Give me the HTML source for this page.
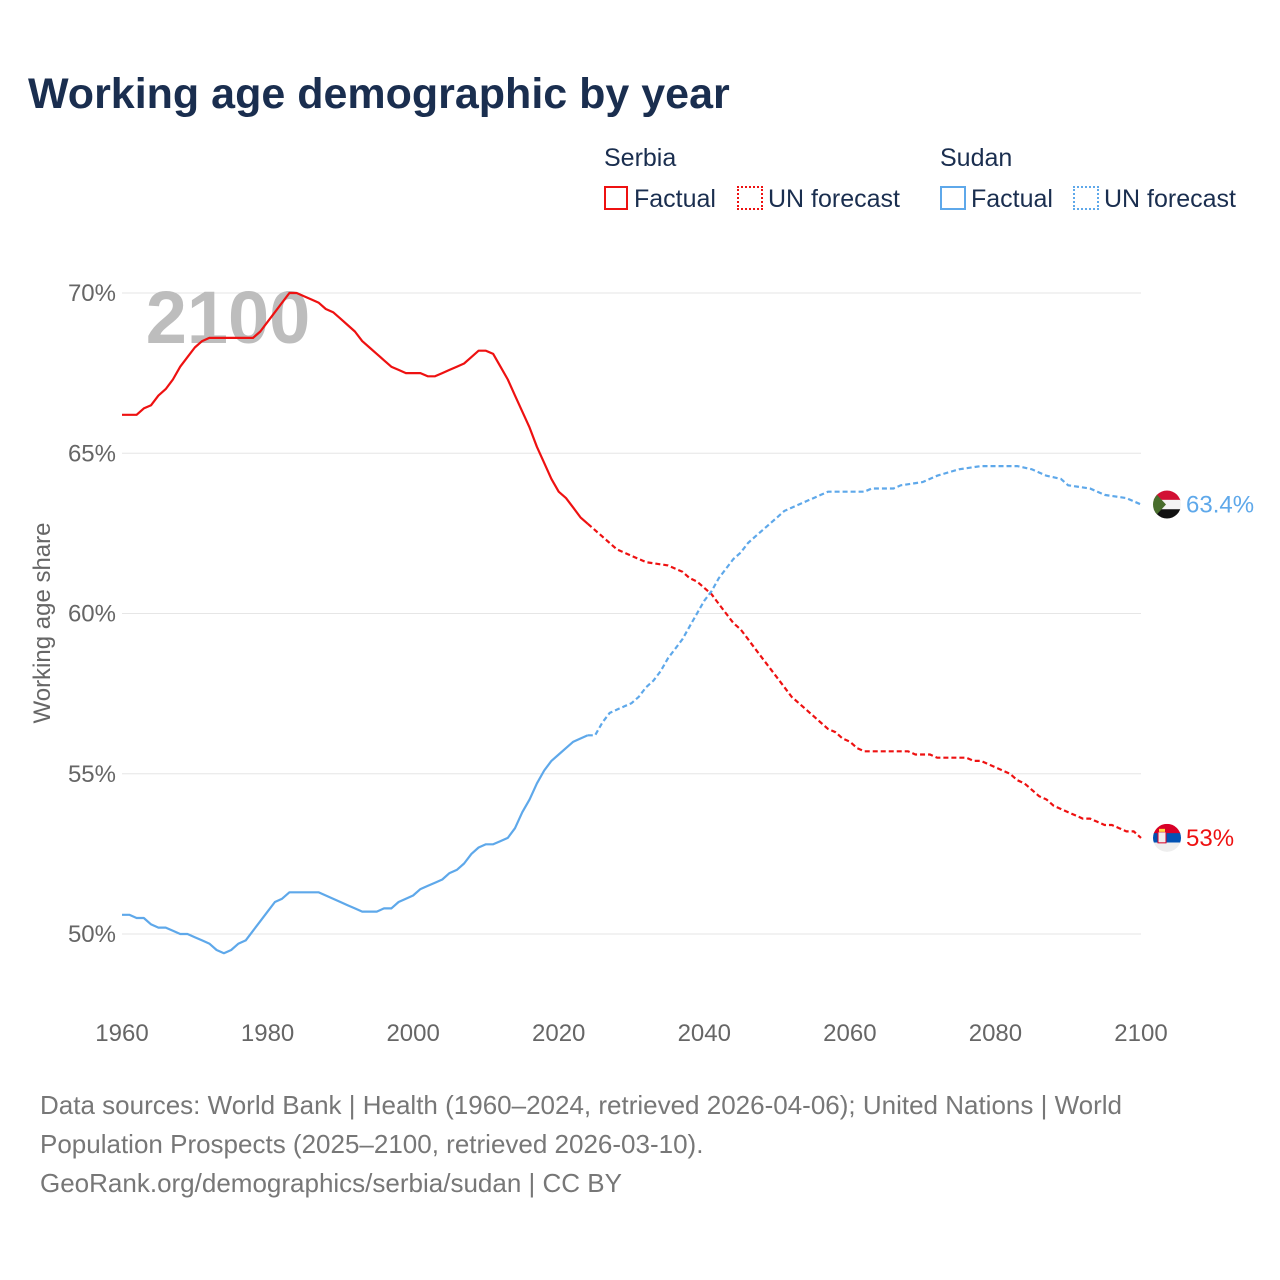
<!DOCTYPE html>
<html><head><meta charset="utf-8">
<style>
html,body{margin:0;padding:0;background:#fff;}
body{width:1280px;height:1280px;position:relative;font-family:"Liberation Sans",sans-serif;overflow:hidden;}
.t{position:absolute;white-space:nowrap;}
</style></head>
<body>
<div class="t" style="left:28px;top:70px;font-size:43px;font-weight:bold;color:#1a2e4f;">Working age demographic by year</div>

<div>
<div class="t" style="left:604px;top:144px;font-size:25px;color:#1a2e4f;">Serbia</div>
<div class="t" style="left:604px;top:185px;font-size:25px;color:#1a2e4f;"><span style="display:inline-block;width:24px;height:24px;border:2px solid #ee1111;box-sizing:border-box;vertical-align:-3px;margin-right:6px;"></span>Factual</div>
<div class="t" style="left:737px;top:185px;font-size:25px;color:#1a2e4f;"><span style="display:inline-block;width:26px;height:24px;border:2px dotted #ee1111;box-sizing:border-box;vertical-align:-3px;margin-right:5px;"></span>UN forecast</div>
<div class="t" style="left:940px;top:144px;font-size:25px;color:#1a2e4f;">Sudan</div>
<div class="t" style="left:940px;top:185px;font-size:25px;color:#1a2e4f;"><span style="display:inline-block;width:26px;height:24px;border:2px solid #5ea8ea;box-sizing:border-box;vertical-align:-3px;margin-right:5px;"></span>Factual</div>
<div class="t" style="left:1073px;top:185px;font-size:25px;color:#1a2e4f;"><span style="display:inline-block;width:26px;height:24px;border:2px dotted #5ea8ea;box-sizing:border-box;vertical-align:-3px;margin-right:5px;"></span>UN forecast</div>
</div>

<svg id="chart" width="1280" height="1280" style="position:absolute;left:0;top:0;" xmlns="http://www.w3.org/2000/svg"></svg>

<div class="t" style="left:40px;top:1086px;font-size:26px;line-height:39px;color:#777;">Data sources: World Bank | Health (1960–2024, retrieved 2026-04-06); United Nations | World<br>Population Prospects (2025–2100, retrieved 2026-03-10).<br>GeoRank.org/demographics/serbia/sudan | CC BY</div>

<script>
const xTicks=[1960,1980,2000,2020,2040,2060,2080,2100];
const yTicks=[50,55,60,65,70];
const serbiaYears=[1960,1962,1963,1964,1965,1966,1967,1968,1969,1970,1971,1972,1978,1979,1980,1981,1982,1983,1984,1985,1986,1987,1988,1989,1990,1991,1992,1993,1994,1995,1996,1997,1998,1999,2001,2002,2003,2004,2005,2006,2007,2008,2009,2010,2011,2012,2013,2014,2015,2016,2017,2018,2019,2020,2021,2022,2023,2024,2025,2026,2027,2028,2029,2030,2031,2032,2035,2036,2037,2038,2039,2040,2041,2042,2043,2044,2045,2046,2047,2048,2049,2050,2051,2052,2053,2054,2055,2056,2057,2058,2059,2060,2061,2062,2068,2069,2071,2072,2076,2077,2078,2079,2080,2081,2082,2083,2084,2085,2086,2087,2088,2089,2090,2091,2092,2093,2094,2095,2096,2097,2098,2099,2100];
const serbiaValues=[66.2,66.2,66.4,66.5,66.8,67.0,67.3,67.7,68.0,68.3,68.5,68.6,68.6,68.8,69.1,69.4,69.7,70.0,70.0,69.9,69.8,69.7,69.5,69.4,69.2,69.0,68.8,68.5,68.3,68.1,67.9,67.7,67.6,67.5,67.5,67.4,67.4,67.5,67.6,67.7,67.8,68.0,68.2,68.2,68.1,67.7,67.3,66.8,66.3,65.8,65.2,64.7,64.2,63.8,63.6,63.3,63.0,62.8,62.6,62.4,62.2,62.0,61.9,61.8,61.7,61.6,61.5,61.4,61.3,61.1,61.0,60.8,60.6,60.3,60.0,59.7,59.5,59.2,58.9,58.6,58.3,58.0,57.7,57.4,57.2,57.0,56.8,56.6,56.4,56.3,56.1,56.0,55.8,55.7,55.7,55.6,55.6,55.5,55.5,55.4,55.4,55.3,55.2,55.1,55.0,54.8,54.7,54.5,54.3,54.2,54.0,53.9,53.8,53.7,53.6,53.6,53.5,53.4,53.4,53.3,53.2,53.2,53.0];
const sudanYears=[1960,1961,1962,1963,1964,1965,1966,1967,1968,1969,1970,1971,1972,1973,1974,1975,1976,1977,1978,1979,1980,1981,1982,1983,1987,1988,1989,1990,1991,1992,1993,1995,1996,1997,1998,1999,2000,2001,2002,2003,2004,2005,2006,2007,2008,2009,2010,2011,2012,2013,2014,2015,2016,2017,2018,2019,2020,2021,2022,2023,2024,2025,2026,2027,2028,2029,2030,2031,2032,2033,2034,2035,2036,2037,2038,2039,2040,2041,2042,2043,2044,2045,2046,2047,2048,2049,2050,2051,2052,2053,2054,2055,2056,2057,2062,2063,2066,2067,2070,2072,2075,2078,2083,2085,2087,2089,2090,2093,2095,2098,2100];
const sudanValues=[50.6,50.6,50.5,50.5,50.3,50.2,50.2,50.1,50.0,50.0,49.9,49.8,49.7,49.5,49.4,49.5,49.7,49.8,50.1,50.4,50.7,51.0,51.1,51.3,51.3,51.2,51.1,51.0,50.9,50.8,50.7,50.7,50.8,50.8,51.0,51.1,51.2,51.4,51.5,51.6,51.7,51.9,52.0,52.2,52.5,52.7,52.8,52.8,52.9,53.0,53.3,53.8,54.2,54.7,55.1,55.4,55.6,55.8,56.0,56.1,56.2,56.2,56.6,56.9,57.0,57.1,57.2,57.4,57.7,57.9,58.2,58.6,58.9,59.2,59.6,60.0,60.4,60.7,61.1,61.4,61.7,61.9,62.2,62.4,62.6,62.8,63.0,63.2,63.3,63.4,63.5,63.6,63.7,63.8,63.8,63.9,63.9,64.0,64.1,64.3,64.5,64.6,64.6,64.5,64.3,64.2,64.0,63.9,63.7,63.6,63.4];
const lastFactualYear=2024;

const NS="http://www.w3.org/2000/svg";
const svg=document.getElementById('chart');
const X=y=>122+(y-1960)*(1141-122)/140;
const Y=v=>934-(v-50)*(934-293)/20;
function mk(tag,attrs,parent){const e=document.createElementNS(NS,tag);for(const k in attrs)e.setAttribute(k,attrs[k]);(parent||svg).appendChild(e);return e;}

yTicks.forEach(v=>{
  const g=mk('line',{x1:122,x2:1141,y1:Y(v),y2:Y(v),stroke:'#e6e6e6','stroke-width':1});
  
  
  const t=mk('text',{x:116,y:Y(v)+8,'text-anchor':'end','font-size':24,fill:'#666','font-family':'Liberation Sans, sans-serif'});
  t.textContent=v+'%';
  
  
});
xTicks.forEach(yr=>{
  const t=mk('text',{x:X(yr),y:1041,'text-anchor':'middle','font-size':24,fill:'#666','font-family':'Liberation Sans, sans-serif'});
  t.textContent=yr;
  
  
});
const yt=mk('text',{x:0,y:0,transform:'translate(50,623) rotate(-90)','text-anchor':'middle','font-size':24,fill:'#666','font-family':'Liberation Sans, sans-serif'});
yt.textContent='Working age share';



const yr=mk('text',{x:228,y:343,'text-anchor':'middle','font-size':74,'font-weight':'bold',fill:'#bdbdbd','font-family':'Liberation Sans, sans-serif'});
yr.textContent='2100';



function series(years,vals,color,name){
  let f='',p='';
  years.forEach((y,i)=>{const pt=X(y).toFixed(1)+','+Y(vals[i]).toFixed(1);
    if(y<=lastFactualYear) f+=(f?' L':'M')+pt;
    if(y>=lastFactualYear) p+=(p?' L':'M')+pt;});
  const a=mk('path',{d:f,fill:'none',stroke:color,'stroke-width':2.2,'stroke-linejoin':'round'});
  
  
  const b=mk('path',{d:p,fill:'none',stroke:color,'stroke-width':2.2,'stroke-dasharray':'5,3'});
  
  
}
series(serbiaYears,serbiaValues,'#ee1111','serbia');
series(sudanYears,sudanValues,'#5ea8ea','sudan');

const sv=sudanValues[sudanValues.length-1], rv=serbiaValues[serbiaValues.length-1];
const defs=mk('defs',{});
const c1=mk('clipPath',{id:'cs'},defs);mk('circle',{cx:1167,cy:Y(sv),r:14},c1);
const c2=mk('clipPath',{id:'cr'},defs);mk('circle',{cx:1167,cy:Y(rv),r:14},c2);
const fs=mk('g',{'clip-path':'url(#cs)'});


let cy=Y(sv);
mk('rect',{x:1153,y:cy-14,width:28,height:10,fill:'#d21034'},fs);
mk('rect',{x:1153,y:cy-4.7,width:28,height:9.4,fill:'#f4f4f4'},fs);
mk('rect',{x:1153,y:cy+4.7,width:28,height:10,fill:'#111'},fs);
mk('polygon',{points:`1153,${cy-14} 1166,${cy} 1153,${cy+14}`,fill:'#496e2d'},fs);
const fr=mk('g',{'clip-path':'url(#cr)'});


cy=Y(rv);
mk('rect',{x:1153,y:cy-14,width:28,height:10,fill:'#d80027'},fr);
mk('rect',{x:1153,y:cy-4.7,width:28,height:9.4,fill:'#0052b4'},fr);
mk('rect',{x:1153,y:cy+4.7,width:28,height:10,fill:'#eeeeee'},fr);
mk('rect',{x:1158,y:cy-6,width:8,height:11,fill:'#eee',stroke:'#d80027','stroke-width':1},fr);
mk('rect',{x:1159,y:cy-9,width:6,height:3,fill:'#ffda44'},fr);

const l1=mk('text',{x:1186,y:Y(sv)+8,'font-size':24,fill:'#5ea8ea','font-family':'Liberation Sans, sans-serif'});
l1.textContent=sv+'%';


const l2=mk('text',{x:1186,y:Y(rv)+8,'font-size':24,fill:'#ee1111','font-family':'Liberation Sans, sans-serif'});
l2.textContent=(+rv.toFixed(1))+'%';


</script>
</body></html>
